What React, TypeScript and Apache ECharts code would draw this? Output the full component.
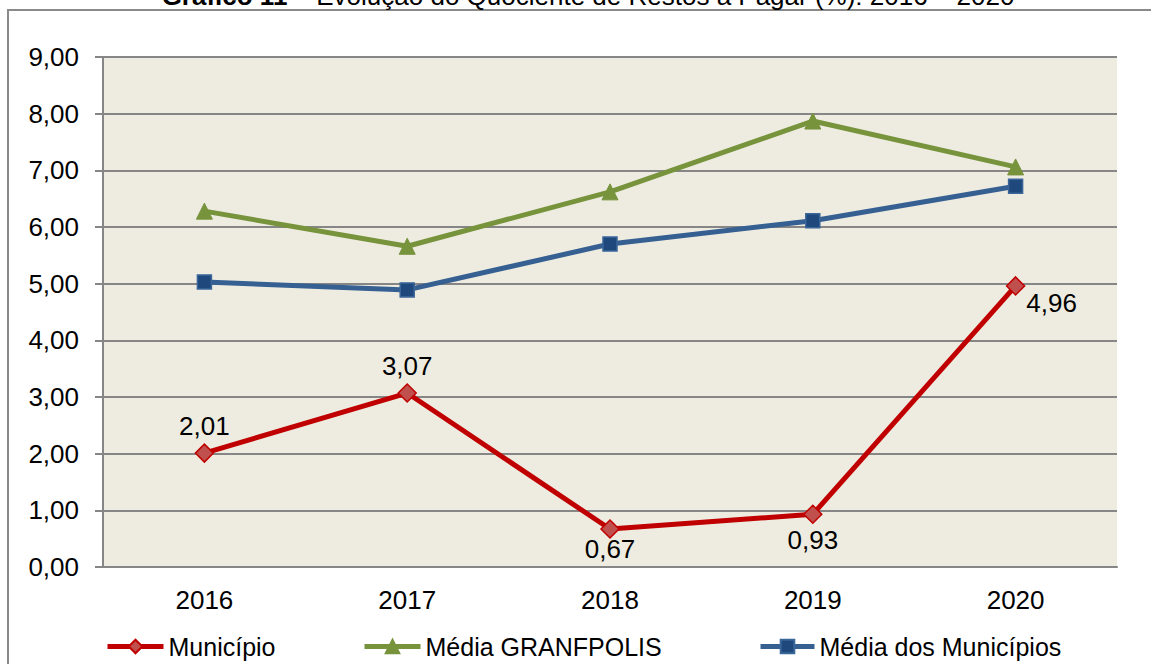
import React, { useEffect, useRef } from "react";
import * as echarts from "echarts";

const years = ["2016", "2017", "2018", "2019", "2020"];
const municipio = [2.01, 3.07, 0.67, 0.93, 4.96];
const granfpolis = [6.28, 5.66, 6.62, 7.87, 7.06];
const mediaMunicipios = [5.03, 4.89, 5.7, 6.11, 6.72];
const labelPositions = ["top", "top", "bottom", "bottom", "right"];
const labelDistances = [4, 4, -3, 3, 1];
const yTicks = { min: 0, max: 9, interval: 1 };

const FONT = "Liberation Sans, Arial, sans-serif";
const FS = 26;
const fmt = (v: number) => v.toFixed(2).replace(".", ",");

export default function App() {
  const ref = useRef<HTMLDivElement>(null);
  useEffect(() => {
    if (!ref.current) return;
    const chart = echarts.init(ref.current, null, { renderer: "svg" });
    const legendText = { fontSize: 25, color: "#000", fontFamily: FONT };
    const legendBase = {
      top: 634,
      padding: 0,
      itemWidth: 56,
      itemHeight: 17,
      itemGap: 5,
      textStyle: legendText,
      lineStyle: { width: 5 },
    };
    chart.setOption({
      animation: false,
      backgroundColor: "#fff",
      textStyle: { fontFamily: FONT },
      graphic: [
        {
          type: "rect",
          shape: { x: 8, y: 10, width: 1300, height: 800 },
          style: { fill: "none", stroke: "#8a8a8a", lineWidth: 2 },
          silent: true,
        },
        {
          type: "text",
          x: 588,
          y: 9,
          style: {
            text: "{b|Gráfico 11 – }{n|Evolução do Quociente de Restos a Pagar (%): 2016 – 2020}",
            align: "center",
            verticalAlign: "bottom",
            rich: {
              b: { fontSize: FS, fontWeight: "bold", fontFamily: FONT, fill: "#000" },
              n: { fontSize: FS, fontFamily: FONT, fill: "#000" },
            },
          },
        },
      ],
      grid: { left: 103, right: 34, top: 57, bottom: 97, show: true, backgroundColor: "#EEECE1", borderWidth: 0 },
      xAxis: {
        type: "category",
        data: years,
        boundaryGap: true,
        axisLine: { lineStyle: { color: "#868686", width: 2 } },
        axisTick: { show: false },
        axisLabel: { fontSize: FS, color: "#000", margin: 20, fontFamily: FONT },
      },
      yAxis: {
        type: "value",
        min: yTicks.min,
        max: yTicks.max,
        interval: yTicks.interval,
        axisLine: { show: true, lineStyle: { color: "#868686", width: 2 } },
        axisTick: { show: true, length: 8, lineStyle: { color: "#868686", width: 2 } },
        axisLabel: { fontSize: FS, color: "#000", margin: 24, fontFamily: FONT, formatter: (v: number) => fmt(v) },
        splitLine: { lineStyle: { color: "#868686", width: 2 } },
      },
      legend: [
        { ...legendBase, data: ["Município"], left: 105 },
        { ...legendBase, data: ["Média GRANFPOLIS"], left: 362 },
        { ...legendBase, data: ["Média dos Municípios"], left: 758, itemWidth: 54 },
      ],
      series: [
        {
          name: "Média GRANFPOLIS",
          type: "line",
          data: granfpolis,
          symbol: "triangle",
          symbolSize: 16,
          lineStyle: { color: "#77933C", width: 5 },
          itemStyle: { color: "#77933C", borderColor: "#77933C", borderWidth: 1 },
          z: 2,
        },
        {
          name: "Média dos Municípios",
          type: "line",
          data: mediaMunicipios,
          symbol: "rect",
          symbolSize: 14,
          lineStyle: { color: "#376092", width: 5 },
          itemStyle: { color: "#1F497D", borderColor: "#3A6699", borderWidth: 1.5 },
          z: 3,
        },
        {
          name: "Município",
          type: "line",
          data: municipio.map((v, i) => {
            const pos = labelPositions[i];
            return {
              value: v,
              label: {
                position: pos,
                distance: labelDistances[i],
                offset: pos === "right" ? [0, 17] : [0, 0],
              },
            };
          }),
          symbol: "diamond",
          symbolSize: 18,
          lineStyle: { color: "#C00000", width: 5 },
          itemStyle: { color: "#C0504D", borderColor: "#C00000", borderWidth: 1.5 },
          label: {
            show: true,
            fontSize: FS,
            color: "#000",
            fontFamily: FONT,
            formatter: (p: any) => fmt(p.value),
          },
          z: 4,
        },
      ],
    });
    return () => chart.dispose();
  }, []);
  return (
    <div
      ref={ref}
      style={{ position: "absolute", left: 0, top: 0, width: 1151, height: 664 }}
    />
  );
}
